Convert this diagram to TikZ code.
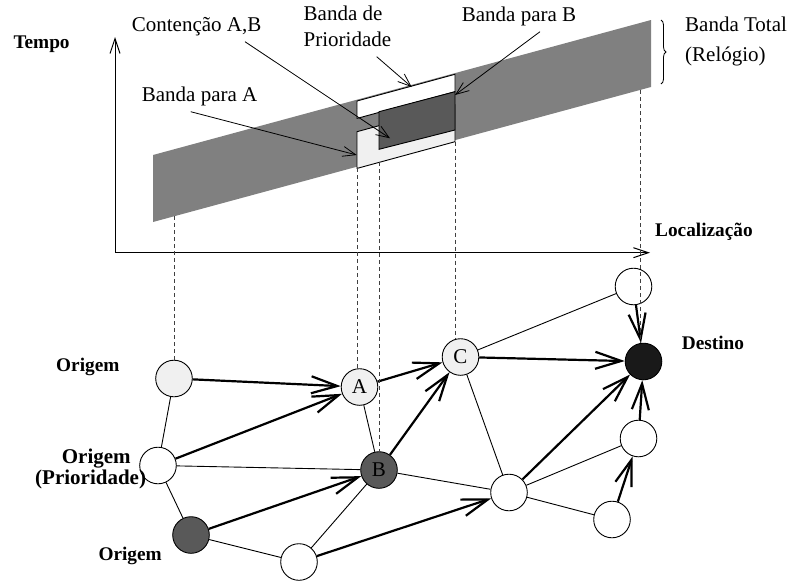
\documentclass[tikz,border=0pt]{standalone}
\usepackage{fontspec}
\setmainfont{Liberation Serif}
\usetikzlibrary{arrows.meta,decorations.pathreplacing}

\begin{document}
\begin{tikzpicture}[x=1pt,y=-1pt,
  thinline/.style={line width=0.9pt},
  flow/.style={line width=2.2pt,-{Straight Barb[length=26pt,width=17pt]}},
  leader/.style={line width=0.8pt,-{Straight Barb[length=13pt,width=10pt]}},
  axis/.style={line width=1pt,-{Straight Barb[length=15pt,width=10pt]}},
  guide/.style={line width=0.9pt,dash pattern=on 4pt off 3pt,black!75},
  site/.style={circle,draw,line width=0.9pt,minimum size=36.6pt,inner sep=0pt,
    font=\fontsize{21}{24}\selectfont},
  lbl/.style={font=\fontsize{21}{24}\selectfont,inner sep=0pt,anchor=base west},
  blbl/.style={font=\fontsize{19.3}{22}\selectfont\bfseries,inner sep=0pt,anchor=base west},
  bbig/.style={font=\fontsize{21}{24}\selectfont\bfseries,inner sep=0pt,anchor=base west}
]
\useasboundingbox (0,0) rectangle (788,581);

\definecolor{bandgray}{gray}{0.5}
\definecolor{darkfill}{gray}{0.35}
\definecolor{lightfill}{gray}{0.94}

% ---- time / location axes ----
\coordinate (orig) at (115,252.7);
\coordinate (ytip) at (115,37);
\coordinate (xtip) at (650,252.7);
\draw[axis] (orig) -- (ytip);
\draw[axis] (orig) -- (xtip);
\node[blbl] (tempo) at (13.3,48.3) {Tempo};
\node[blbl] (loc) at (655,236.7) {Localização};

% ---- total band (clock) ----
\fill[bandgray] (153,155) -- (651,20) -- (651,87) -- (153,222) -- cycle;

% band for A (light), priority strip (white), band for B (dark)
\draw[thinline,fill=lightfill] (357,131.7) -- (455,105) -- (455,141.7) -- (357,168.4) -- cycle;
\draw[thinline,fill=white] (357,101) -- (455,74.3) -- (455,91.7) -- (357,118.4) -- cycle;
\draw[thinline,fill=darkfill] (379,111.7) -- (455,91.7) -- (455,130) -- (379,149.3) -- cycle;

% brace for the total band
\draw[line width=0.8pt,decorate,decoration={brace,amplitude=5pt}] (661,20) -- (661,84);
\node[lbl] (total1) at (685,31.7) {Banda Total};
\node[lbl] (total2) at (685,61.7) {(Relógio)};

% ---- labels with pointers ----
\node[lbl] (cont) at (131.7,31.5) {Contenção A,B};
\node[lbl] (prio1) at (303.5,20) {Banda de};
\node[lbl] (prio2) at (303.5,46.7) {Prioridade};
\node[lbl] (bandB) at (461.7,21) {Banda para B};
\node[lbl] (bandA) at (141.7,101.7) {Banda para A};

\coordinate (contS) at (245,41.7);   \coordinate (contE) at (390,138.3);
\coordinate (prioS) at (376.7,56.7); \coordinate (prioE) at (411.7,87);
\coordinate (bS) at (540,31.7);      \coordinate (bE) at (455,95);
\coordinate (aS) at (190.7,111.7);   \coordinate (aE) at (356.7,155);
\draw[leader] (contS) -- (contE);
\draw[leader] (prioS) -- (prioE);
\draw[leader] (bS) -- (bE);
\draw[leader] (aS) -- (aE);

% ---- network ----
\node[site,fill=lightfill] (o1) at (174,378.5) {};
\node[site,fill=lightfill] (A)  at (359.5,387) {A};
\node[site,fill=white]     (o2) at (158,465.5) {};
\node[site,fill=darkfill]  (B)  at (379,470) {B};
\node[site,fill=darkfill]  (o3) at (191,535) {};
\node[site,fill=white]     (n1) at (299,562) {};
\node[site,fill=lightfill] (C)  at (460.5,357) {C};
\node[site,fill=white]     (t)  at (633.5,286.5) {};
\node[site,fill=black!90]  (D)  at (643.5,361.5) {};
\node[site,fill=white]     (m)  at (509,492.5) {};
\node[site,fill=white]     (r1) at (638.5,438.5) {};
\node[site,fill=white]     (r2) at (612,519.5) {};

% plain links
\draw[thinline] (o1) -- (o2);
\draw[thinline] (o2) -- (o3);
\draw[thinline] (o3) -- (n1);
\draw[thinline] (n1) -- (B);
\draw[thinline] (o2) -- (B);
\draw[thinline] (A) -- (B);
\draw[thinline] (C) -- (t);
\draw[thinline] (C) -- (m);
\draw[thinline] (B) -- (m);
\draw[thinline] (m) -- (r1);
\draw[thinline] (m) -- (r2);

% routes
\draw[flow] (o1) -- (A);
\draw[flow] (o2) -- (A);
\draw[flow] (o3) -- (B);
\draw[flow] (n1) -- (m);
\draw[flow] (A) -- (C);
\draw[flow] (B) -- (C);
\draw[flow] (C) -- (D);
\draw[flow] (m) -- (D);
\draw[flow] (t) -- (D);
\draw[flow] (r1) -- (D);
\draw[flow] (r2) -- (r1);

% projections from the bands onto the network
\coordinate (q1) at (174,216.3);
\coordinate (q2) at (357,168.4);
\coordinate (q3) at (379,162.4);
\coordinate (q4) at (455,141.7);
\coordinate (q5) at (640,90);
\draw[guide] (q1) -- (q1 |- o1.north);
\draw[guide] (q2) -- (q2 |- A.north);
\draw[guide] (q3) -- (q3 |- B.north);
\draw[guide] (q4) -- (q4 |- C.north);
\draw[guide] (q5) -- (q5 |- D.north);

% node captions
\node[blbl] (lo1) at (56,371) {Origem};
\node[bbig] (lo2a) at (61.7,463.3) {Origem};
\node[bbig] (lo2b) at (35,484) {(Prioridade)};
\node[blbl] (lo3) at (98.3,560) {Origem};
\node[blbl] (ldest) at (681.7,349.3) {Destino};
\end{tikzpicture}
\end{document}
